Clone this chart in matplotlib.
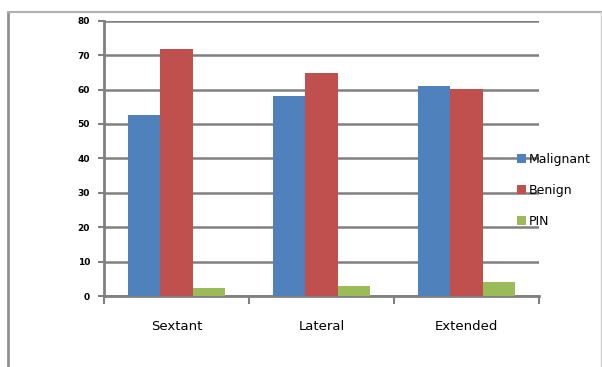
import matplotlib
matplotlib.use("Agg")
import matplotlib.pyplot as plt
import numpy as np
from matplotlib.lines import Line2D

categories = ["Sextant", "Lateral", "Extended"]
series_names = ["Malignant", "Benign", "PIN"]
malignant = [52.5, 58.2, 61.1]
benign = [71.7, 64.7, 60.1]
pin = [2.4, 3.0, 4.2]
yticks = [0, 10, 20, 30, 40, 50, 60, 70, 80]
colors = ["#4F81BD", "#C0504D", "#9BBB59"]

fig = plt.figure(figsize=(6.02, 3.67), dpi=100)
ax = fig.add_axes([104/602, 1-296/367, (539-104)/602, (296-20.7)/367])

x = np.arange(len(categories))
w = 1/4.5
for i, (vals, name) in enumerate(zip([malignant, benign, pin], series_names)):
    ax.bar(x + (i-1)*w, vals, width=w, color=colors[i], label=name, zorder=3)

ax.set_xlim(-0.5, 2.5)
ax.set_ylim(0, 80)
ax.set_yticks(yticks)
ax.set_yticklabels([str(v) for v in yticks], fontsize=6.5, fontweight="bold")
ax.set_xticks(x)
ax.set_xticklabels(categories, fontsize=9.5)
ax.tick_params(axis="x", length=0, pad=17)
ax.set_xticks([-0.5, 0.5, 1.5, 2.5], minor=True)
ax.tick_params(axis="x", which="minor", length=6, width=1.5, color="#808080", direction="out")
ax.tick_params(axis="y", length=4, width=1.5, color="#808080", pad=6)
ax.grid(axis="y", color="#808080", linewidth=1.8, zorder=0)
for s in ["top", "right"]:
    ax.spines[s].set_visible(False)
for s in ["left", "bottom"]:
    ax.spines[s].set_color("#808080")
    ax.spines[s].set_linewidth(2)

leg = fig.legend(loc="upper left", bbox_to_anchor=(512/602, 1-148/367), frameon=False,
                 fontsize=9, handlelength=0.7, handleheight=0.7, handletextpad=0.2,
                 labelspacing=1.45, borderaxespad=0)

# outer chart frame
fig.add_artist(Line2D([8/602, 8/602], [0, 1-12/367], color="#909090", lw=2, transform=fig.transFigure))
fig.add_artist(Line2D([8/602, 601/602], [1-12/367, 1-12/367], color="#b0b0b0", lw=1.5, transform=fig.transFigure))
fig.add_artist(Line2D([601/602, 601/602], [0, 1-12/367], color="#d0d0d0", lw=1, transform=fig.transFigure))

fig.savefig("out.png", dpi=100)
